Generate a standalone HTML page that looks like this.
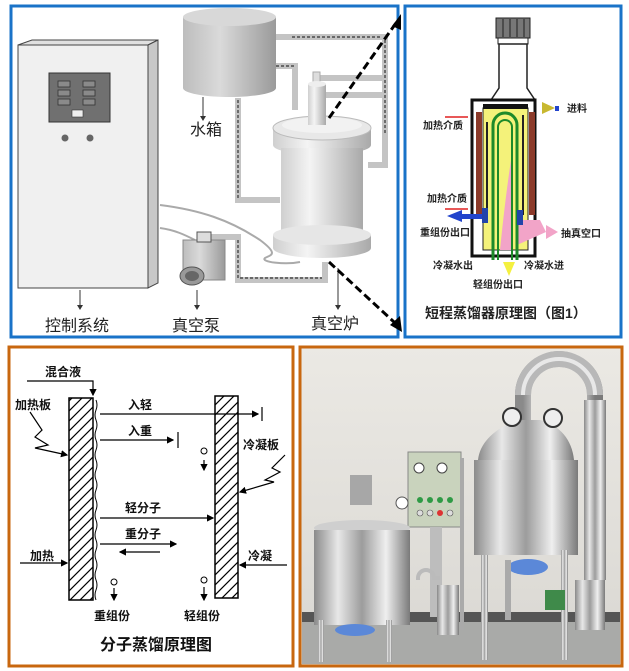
<!DOCTYPE html>
<html><head><meta charset="utf-8"><style>
html,body{margin:0;padding:0;background:#fff;}
svg{display:block;font-family:"Liberation Sans","Noto Sans CJK SC",sans-serif;}
</style></head><body>
<svg width="629" height="671" viewBox="0 0 629 671" xmlns="http://www.w3.org/2000/svg">
<defs>
<linearGradient id="cyl" x1="0" x2="1"><stop offset="0" stop-color="#cfcfcf"/><stop offset="0.35" stop-color="#f4f4f4"/><stop offset="1" stop-color="#a9a9a9"/></linearGradient>
<linearGradient id="tank" x1="0" x2="1"><stop offset="0" stop-color="#bdbdbd"/><stop offset="0.4" stop-color="#dadada"/><stop offset="1" stop-color="#9a9a9a"/></linearGradient>
<linearGradient id="steel" x1="0" x2="1"><stop offset="0" stop-color="#8a8a8a"/><stop offset="0.25" stop-color="#e8e8e8"/><stop offset="0.5" stop-color="#9c9c9c"/><stop offset="0.75" stop-color="#efefef"/><stop offset="1" stop-color="#7a7a7a"/></linearGradient>
<linearGradient id="wall" x1="0" y1="0" x2="0" y2="1"><stop offset="0" stop-color="#ebe9e4"/><stop offset="1" stop-color="#d9d7d2"/></linearGradient>
<pattern id="hatch" width="10" height="10" patternUnits="userSpaceOnUse"><path d="M0 10 L10 0 M-2 2 L2 -2 M8 12 L12 8" stroke="#000" stroke-width="1.2"/></pattern>
<marker id="ah" markerWidth="8" markerHeight="8" refX="7" refY="4" orient="auto"><path d="M0 0 L8 4 L0 8z" fill="#000"/></marker>
<marker id="ah2" markerWidth="6" markerHeight="6" refX="5" refY="3" orient="auto"><path d="M0 0 L6 3 L0 6z" fill="#000"/></marker>
</defs>
<rect width="629" height="671" fill="#fff"/>

<!-- ===== TOP LEFT ===== -->
<rect x="11" y="6" width="387" height="331" fill="#fff" stroke="#1a73c8" stroke-width="3"/>
<!-- cabinet -->
<polygon points="18,45 32,40 158,40 148,45" fill="#e0e0e0" stroke="#444" stroke-width="1"/>
<polygon points="148,45 158,40 158,283 148,288" fill="#c8c8c8" stroke="#444" stroke-width="1"/>
<rect x="18" y="45" width="130" height="243" fill="#f0f0f0" stroke="#444" stroke-width="1"/>
<rect x="49" y="73" width="61" height="49" fill="#707070" stroke="#333"/>
<g fill="#8a8a8a" stroke="#333" stroke-width="0.8">
<rect x="58" y="81" width="12" height="6"/><rect x="83" y="81" width="12" height="6"/>
<rect x="58" y="90" width="12" height="6"/><rect x="83" y="90" width="12" height="6"/>
<rect x="58" y="99" width="12" height="6"/><rect x="83" y="99" width="12" height="6"/>
</g>
<rect x="72" y="110" width="11" height="7" fill="#eee" stroke="#333" stroke-width="0.6"/>
<circle cx="65" cy="138" r="3.5" fill="#666"/><circle cx="90" cy="138" r="3.5" fill="#666"/>
<!-- pipes -->
<g fill="none" stroke="#c4c4c4" stroke-width="6">
<path d="M276 37 L385 37 L385 165 L368 165"/>
<path d="M276 66 L295 66 L295 110"/>
<path d="M320 78 L382 78"/>
<path d="M320 95 L382 95"/>
<path d="M238 98 L238 200 L280 200"/>
<path d="M210 237 L238 237 L238 280 L325 280 L325 262"/>
</g>
<g fill="none" stroke="#333" stroke-width="1.2" stroke-dasharray="3,2">
<path d="M385 40 L385 135"/><path d="M380 37 L290 37"/>
<path d="M238 100 L238 198"/><path d="M276 66 L295 66"/>
<path d="M238 240 L238 278 L322 278"/>
</g>
<path d="M160 205 C200 210 230 220 260 240 C280 255 270 255 265 258 C260 262 285 265 300 262" fill="none" stroke="#aaa" stroke-width="2"/>
<path d="M160 228 C175 230 185 235 195 240" fill="none" stroke="#aaa" stroke-width="2"/>
<!-- water tank -->
<path d="M183 17 L183 88 A46.5 9 0 0 0 276 88 L276 17 Z" fill="url(#tank)"/>
<ellipse cx="229.5" cy="17" rx="46.5" ry="9" fill="#d8d8d8"/>
<!-- furnace -->
<rect x="313" y="72" width="7" height="12" fill="#ddd" stroke="#aaa"/>
<rect x="308" y="84" width="18" height="38" fill="url(#cyl)"/>
<ellipse cx="317" cy="84" rx="9" ry="3" fill="#eee"/>
<path d="M273 130 L273 145 A49 10 0 0 0 371 145 L371 130 Z" fill="url(#cyl)"/>
<ellipse cx="322" cy="128" rx="49" ry="12" fill="#e8e8e8" stroke="#bbb"/>
<ellipse cx="322" cy="125" rx="40" ry="8" fill="#f2f2f2"/>
<rect x="308" y="98" width="18" height="27" fill="url(#cyl)"/>
<rect x="281" y="148" width="82" height="90" fill="url(#cyl)"/>
<path d="M273 235 L273 248 A49 10 0 0 0 371 248 L371 235 Z" fill="url(#cyl)"/>
<ellipse cx="322" cy="235" rx="49" ry="10" fill="#e6e6e6"/>
<!-- pump -->
<rect x="183" y="240" width="42" height="40" fill="url(#tank)" stroke="#888"/>
<rect x="197" y="232" width="14" height="10" fill="#ddd" stroke="#555"/>
<ellipse cx="192" cy="276" rx="12" ry="9" fill="#999" stroke="#555"/>
<ellipse cx="192" cy="276" rx="7" ry="5" fill="#666"/>
<!-- labels -->
<g stroke="#333" stroke-width="1"><line x1="203" y1="97" x2="203" y2="118"/><line x1="80" y1="290" x2="80" y2="307"/><line x1="197" y1="290" x2="197" y2="307"/><line x1="338" y1="268" x2="338" y2="307"/></g>
<g fill="#333"><path d="M200 116 L203 121 L206 116z"/><path d="M77 305 L80 310 L83 305z"/><path d="M194 305 L197 310 L200 305z"/><path d="M335 305 L338 310 L341 305z"/></g>
<g font-size="16" fill="#222">
<text x="190" y="135">水箱</text>
<text x="45" y="331">控制系统</text>
<text x="172" y="331">真空泵</text>
<text x="311" y="329">真空炉</text>
</g>
<g stroke="#000" stroke-width="3" stroke-dasharray="8,4" fill="none">
<line x1="329" y1="118" x2="396" y2="23"/>
<line x1="329" y1="262" x2="394" y2="322"/>
</g>
<path d="M392 26 L401 14 L401 30z" fill="#000"/>
<path d="M390 325 L402 332 L400 316z" fill="#000"/>

<!-- ===== TOP RIGHT ===== -->
<rect x="405" y="6" width="216" height="331" fill="#fff" stroke="#1a73c8" stroke-width="3"/>
<rect x="496" y="18" width="34" height="20" fill="#777" stroke="#222"/>
<g stroke="#222" stroke-width="1"><line x1="503" y1="19" x2="503" y2="37"/><line x1="510" y1="19" x2="510" y2="37"/><line x1="517" y1="19" x2="517" y2="37"/><line x1="524" y1="19" x2="524" y2="37"/></g>
<rect x="498" y="38" width="30" height="6" fill="#fff" stroke="#222"/>
<path d="M499 44 L499 88 L491 100 L535 100 L527 88 L527 44 Z" fill="#fff" stroke="#222" stroke-width="1.5"/>
<rect x="472" y="100" width="63" height="156" fill="#fff" stroke="#111" stroke-width="3"/>
<rect x="476" y="112" width="6" height="103" fill="#8b3a2a"/>
<rect x="529" y="112" width="6" height="103" fill="#8b3a2a"/>
<rect x="483" y="108" width="45" height="142" fill="#f4f27a" stroke="#222" stroke-width="1"/>
<path d="M500 250 C504 210 508 180 511 160 L511 250 Z" fill="#f2a4c8"/>
<path d="M517 220 L540 220 L546 232 L517 245 Z" fill="#f2a4c8"/>
<polygon points="546,225 558,232 546,239" fill="#f2a4c8"/>
<rect x="483" y="104" width="45" height="5" fill="#111"/>
<path d="M493 260 L493 125 A12 12 0 0 1 517 125 L517 260" fill="none" stroke="#1d8a2a" stroke-width="3"/>
<path d="M498 260 L498 127 A7 7 0 0 1 512 127 L512 260" fill="none" stroke="#1d8a2a" stroke-width="2"/>
<g fill="#222"><rect x="486" y="122" width="2" height="100"/><rect x="522" y="115" width="2" height="100"/></g>
<rect x="517" y="210" width="6" height="15" fill="#2244aa"/>
<rect x="482" y="208" width="6" height="15" fill="#2244aa"/>
<g stroke="#e02020" stroke-width="1.5"><line x1="445" y1="117" x2="468" y2="117"/><line x1="445" y1="209" x2="468" y2="209"/></g>
<polygon points="447,216 462,210 462,222" fill="#2244cc"/><rect x="462" y="214" width="20" height="5" fill="#2244cc"/>
<polygon points="555,108 542,102 542,114" fill="#c8b830"/><rect x="555" y="106" width="4" height="5" fill="#2244cc"/>
<polygon points="503,262 515,262 509,276" fill="#f4f040"/>
<g font-size="10" fill="#222" font-weight="bold">
<text x="567" y="112">进料</text>
<text x="423" y="129">加热介质</text>
<text x="427" y="202">加热介质</text>
<text x="420" y="236">重组份出口</text>
<text x="561" y="237">抽真空口</text>
<text x="433" y="269">冷凝水出</text>
<text x="524" y="269">冷凝水进</text>
<text x="473" y="288">轻组份出口</text>
</g>
<text x="425" y="318" font-size="14" font-weight="bold" fill="#222">短程蒸馏器原理图（图1）</text>

<!-- ===== BOTTOM LEFT ===== -->
<rect x="9" y="347" width="284" height="319" fill="#fff" stroke="#c8670f" stroke-width="3"/>
<rect x="69" y="398" width="24" height="202" fill="url(#hatch)" stroke="#000" stroke-width="1.5"/>
<rect x="215" y="396" width="23" height="202" fill="url(#hatch)" stroke="#000" stroke-width="1.5"/>
<path d="M96 400 q2 5 0 10 q-2 5 0 10 q2 5 0 10 q-2 5 0 10 q2 5 0 10 q-2 5 0 10 q2 5 0 10 q-2 5 0 10 q2 5 0 10 q-2 5 0 10 q2 5 0 10 q-2 5 0 10 q2 5 0 10 q-2 5 0 10 q2 5 0 10 q-2 5 0 10 q2 5 0 10 q-2 5 0 10 q2 5 0 10 q-2 5 0 10" fill="none" stroke="#000" stroke-width="1"/>
<g stroke="#000" stroke-width="1.2" fill="none">
<path d="M27 381 L93 381 L93 395" marker-end="url(#ah2)"/>
<line x1="100" y1="414" x2="258" y2="414" marker-end="url(#ah2)"/><line x1="262" y1="407" x2="262" y2="421"/>
<line x1="100" y1="440" x2="173" y2="440" marker-end="url(#ah2)"/><line x1="178" y1="432" x2="178" y2="448"/>
<line x1="100" y1="518" x2="213" y2="518" marker-end="url(#ah2)"/>
<line x1="100" y1="544" x2="176" y2="544" marker-end="url(#ah2)"/>
<line x1="160" y1="552" x2="120" y2="552" marker-end="url(#ah2)"/>
<line x1="20" y1="563" x2="67" y2="563" marker-end="url(#ah2)"/>
<line x1="287" y1="565" x2="240" y2="565" marker-end="url(#ah2)"/>
<path d="M30 412 L42 430 L35 437 L48 445 L35 448 L67 455" marker-end="url(#ah2)"/>
<path d="M285 455 L272 468 L280 472 L265 480 L274 482 L240 492" marker-end="url(#ah2)"/>
<line x1="204" y1="460" x2="204" y2="470" marker-end="url(#ah2)"/>
<line x1="114" y1="588" x2="114" y2="600" marker-end="url(#ah2)"/>
<line x1="204" y1="587" x2="204" y2="600" marker-end="url(#ah2)"/>
</g>
<g fill="#fff" stroke="#000" stroke-width="1"><circle cx="204" cy="451" r="3"/><circle cx="114" cy="582" r="3"/><circle cx="204" cy="580" r="3"/></g>
<g font-size="12" fill="#111" font-weight="bold">
<text x="45" y="376">混合液</text>
<text x="15" y="409">加热板</text>
<text x="128" y="409">入轻</text>
<text x="128" y="435">入重</text>
<text x="243" y="449">冷凝板</text>
<text x="125" y="512">轻分子</text>
<text x="125" y="538">重分子</text>
<text x="30" y="560">加热</text>
<text x="248" y="560">冷凝</text>
<text x="94" y="620">重组份</text>
<text x="184" y="620">轻组份</text>
</g>
<text x="100" y="650" font-size="16" font-weight="bold" fill="#111">分子蒸馏原理图</text>

<!-- ===== BOTTOM RIGHT (photo approximation) ===== -->
<rect x="300" y="347" width="322" height="319" fill="url(#wall)" stroke="#c8670f" stroke-width="3"/>
<rect x="302" y="620" width="318" height="44" fill="#a9aaa8"/>
<rect x="302" y="612" width="318" height="10" fill="#555"/>
<!-- tall pipe / arch -->
<path d="M523 440 L523 395 A36 36 0 0 1 595 395 L595 580" fill="none" stroke="url(#steel)" stroke-width="16"/>
<path d="M523 395 A36 36 0 0 1 595 395" fill="none" stroke="#b8b8b8" stroke-width="16"/>
<path d="M523 395 A36 36 0 0 1 595 395" fill="none" stroke="#e8e8e8" stroke-width="4"/>
<rect x="584" y="400" width="22" height="180" fill="url(#steel)"/>
<rect x="575" y="580" width="30" height="50" fill="url(#steel)"/>
<!-- big vessel -->
<path d="M478 460 C480 440 500 425 520 420 L540 420 C560 425 572 440 574 460 Z" fill="url(#steel)"/>
<rect x="474" y="460" width="104" height="95" fill="url(#steel)"/>
<circle cx="512" cy="417" r="9" fill="#eee" stroke="#333" stroke-width="2"/>
<circle cx="553" cy="418" r="9" fill="#eee" stroke="#333" stroke-width="2"/>
<ellipse cx="528" cy="567" rx="20" ry="8" fill="#5b88d8"/>
<rect x="481" y="555" width="7" height="105" fill="url(#steel)"/>
<rect x="561" y="550" width="7" height="110" fill="url(#steel)"/>
<rect x="505" y="560" width="6" height="60" fill="#aaa"/>
<rect x="545" y="590" width="20" height="20" fill="#3f8a4a"/>
<!-- control box -->
<rect x="408" y="452" width="53" height="75" fill="#c9d3bd" stroke="#888"/>
<circle cx="419" cy="468" r="5" fill="#fff" stroke="#444"/><circle cx="442" cy="468" r="5" fill="#fff" stroke="#444"/>
<g fill="#2e9a45"><circle cx="420" cy="500" r="3"/><circle cx="430" cy="500" r="3"/><circle cx="440" cy="500" r="3"/><circle cx="450" cy="500" r="3"/></g>
<g fill="#ddd" stroke="#555" stroke-width="0.6"><circle cx="420" cy="513" r="3"/><circle cx="430" cy="513" r="3"/><circle cx="450" cy="513" r="3"/></g>
<circle cx="440" cy="513" r="3" fill="#d33"/>
<rect x="430" y="527" width="12" height="90" fill="#bdbdbd"/>
<line x1="462" y1="458" x2="462" y2="630" stroke="#aaa" stroke-width="4"/>
<!-- small tank -->
<rect x="350" y="475" width="22" height="30" fill="#a7a7a7"/>
<circle cx="402" cy="503" r="6" fill="#fff" stroke="#555"/>
<ellipse cx="362" cy="528" rx="48" ry="8" fill="#cfcfcf"/>
<rect x="314" y="530" width="96" height="95" fill="url(#steel)"/>
<ellipse cx="355" cy="630" rx="20" ry="6" fill="#5b88d8"/>
<rect x="318" y="620" width="6" height="42" fill="url(#steel)"/>
<rect x="386" y="620" width="6" height="42" fill="url(#steel)"/>
<rect x="437" y="585" width="22" height="50" fill="url(#steel)"/>
<path d="M418 580 L418 578 A8 8 0 0 1 434 578 L440 578" fill="none" stroke="#bbb" stroke-width="4"/>
</svg>
</body></html>
